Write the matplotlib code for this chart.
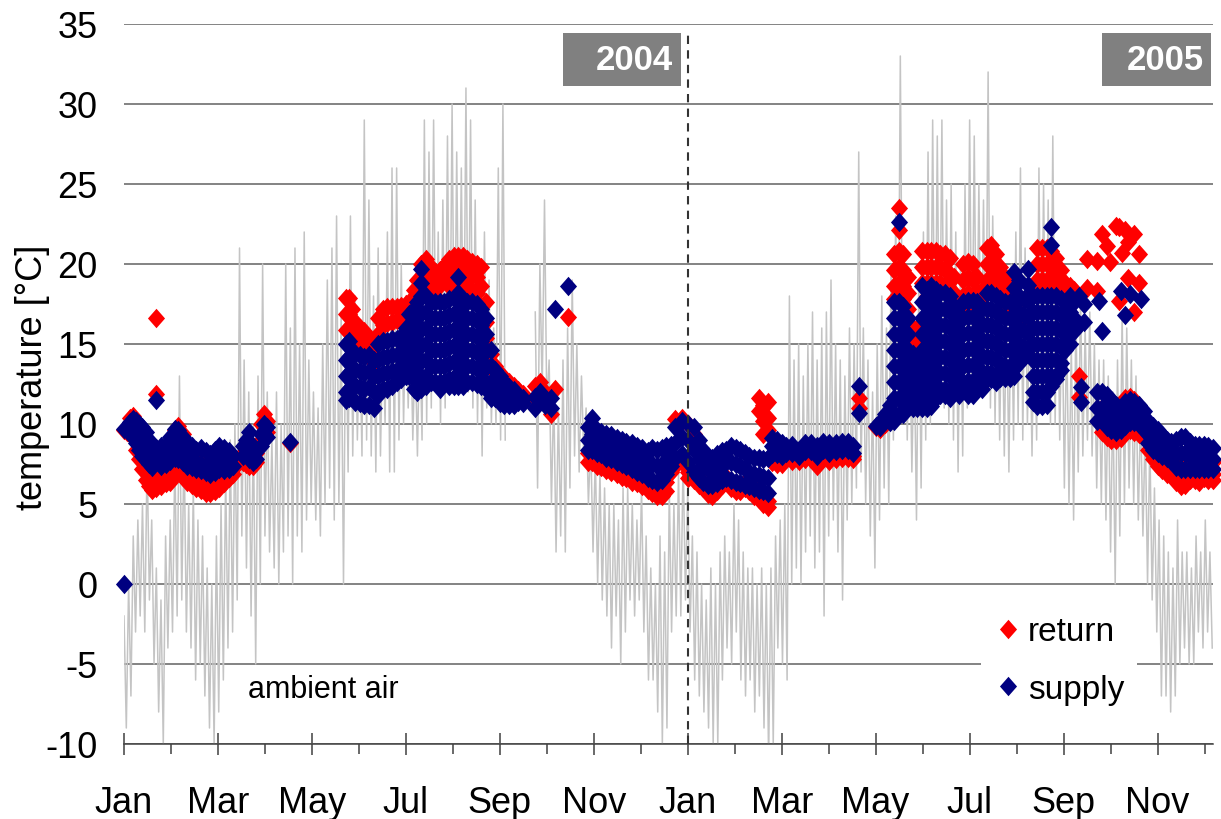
import numpy as np
import matplotlib
matplotlib.use("Agg")
import matplotlib.pyplot as plt
from matplotlib.path import Path
from matplotlib.patches import Rectangle

plt.rcParams['font.family'] = ['Liberation Sans', 'DejaVu Sans']
plt.rcParams['axes.unicode_minus'] = False

# ---------------------------------------------------------------------------
# Ambient air temperature: daily high / low, one pair every 3 days from 1 Jan 2004
# (None = logger gap)
# ---------------------------------------------------------------------------
amb_step = 3
amb_hi = [-2, 0, 3, 4, 5, 8, 4, 1, -1, 3,
          4, 8, 13, 9, 5, 6, 4, 3, 1, 0,
          3, 5, 7, 9, 10, 21, 14, 12, 10, 13,
          20, 12, 9, 12, 10, 20, 16, 21, 15, 22,
          14, 12, 11, 15, 19, 21, 23, 17, 18, 23,
          18, 16, 29, 24, 18, 21, 16, 22, 26, 26,
          20, 18, 17, 15, 16, 29, 27, 29, 22, 24,
          28, 30, 27, 26, 31, 29, 24, 20, 22, 19,
          16, 26, 30, None, None, None, None, None, None, 17,
          20, 24, 14, 12, 11, 14, 16, 19, 15, 13,
          11, 9, 8, 7, 6, 5, 5, 4, 6, 6,
          5, 4, 6, 3, 1, 0, 3, 2, 6, 5,
          7, 8, 6, 3, 2, 0, -1, 1, 0, 2,
          3, 2, 5, 4, 2, 1, 1, 0, 1, 0,
          1, 3, 4, 5, 18, 14, 15, 13, 15, 17,
          14, 16, 17, 19, 15, 14, 13, 16, 15, 27,
          16, 14, 12, 15, 18, 16, 20, 23, 33, 20,
          17, 15, 19, 22, 27, 29, 28, 29, 24, 25,
          22, 20, 25, 29, 28, 25, 24, 32, 23, 21,
          19, 18, 20, 22, 26, 21, 17, 18, 26, 25,
          24, 28, 20, 18, 16, 15, 17, 18, 16, 17,
          15, 14, 14, 13, 12, 14, 17, 16, 14, 13,
          11, 10, 9, 6, 4, 3, 2, 1, 4, 2,
          2, 1, 3, 2, 4, 2]
amb_lo = [-9, -7, -3, -2, -3, -1, -5, -8, -10, -4,
          -3, -2, -1, -3, -4, -6, -5, -7, -9, -10,
          -8, -6, -4, -3, -1, 3, 1, -2, -5, 0,
          3, 2, 1, 0, 2, 3, 0, 3, 2, 4,
          5, 4, 3, 5, 6, 4, 5, 0, 7, 8,
          9, 8, 9, 8, 7, 8, 10, 7, 7, 9,
          10, 11, 9, 8, 9, 10, 11, 12, 10, 11,
          12, 12, 13, 12, 12, 11, 10, 8, 11, 10,
          10, 9, 9, None, None, None, None, None, None, 6,
          12, 11, 5, 2, 3, 2, 6, 8, 7, 8,
          5, 2, 0, -1, -2, -4, -2, -5, -3, -1,
          -2, -1, -3, -6, -6, -8, -10, -9, -3, -2,
          -2, -1, -3, -6, -7, -8, -9, -10, -10, -6,
          -4, -5, -3, -6, -7, -6, -8, -7, -9, -11,
          -10, -4, -5, -6, 0, 1, 0, 2, 3, 1,
          2, -2, 3, 4, 2, -1, 4, 5, 6, 7,
          5, 3, 1, 4, 6, 5, 9, 10, 12, 9,
          7, 4, 6, 9, 10, 11, 12, 11, 10, 9,
          7, 8, 11, 12, 12, 12, 12, 11, 10, 9,
          8, 7, 9, 10, 9, 10, 8, 9, 11, 12,
          10, 10, 9, 6, 5, 4, 7, 8, 9, 8,
          6, 5, 4, 2, 0, 3, 5, 6, 5, 4,
          3, 0, -1, -3, -7, -7, -8, -7, -5, -4,
          -5, -5, -3, -4, -3, -4]

# ---------------------------------------------------------------------------
# Loop temperatures: day number (0 = 1 Jan 2004) and the readings of that day
# ---------------------------------------------------------------------------
supply_day = [
    0, 2, 4, 6, 8, 10, 12, 14, 16, 18, 21, 24, 27, 30, 33, 35, 38, 41, 44, 47,
    50, 53, 56, 59, 62, 65, 68, 71, 77, 79, 81, 84, 86, 89, 91, 93, 108,
    144, 146, 148, 150, 153, 156, 159, 162, 165, 168, 171, 174, 177, 180, 183,
    185, 188, 190, 193, 196, 199, 202, 205, 208, 211, 214, 217, 220, 223, 226,
    229, 232, 235, 238, 241, 244, 247, 250, 253, 256, 259,
    267, 270, 273, 277, 280, 288,
    301, 304, 307, 310, 313, 316, 320, 323, 326, 330, 333, 336, 340, 343, 346,
    349, 352, 355, 358, 362, 366, 370, 373, 376, 379, 382, 385, 388, 391, 394,
    397, 400, 403, 406, 409, 412, 415, 418, 421, 424, 427, 430, 434, 438, 442,
    446, 450, 454, 458, 462, 466, 470, 473, 477,
    488, 491, 494, 497, 500, 503, 506, 509, 512, 515, 518, 521, 524, 527, 530,
    533, 536, 539, 542, 545, 548, 551, 554, 557, 560, 563, 566, 569, 572, 575,
    578, 581, 584, 587, 590, 593, 596, 599, 602, 605, 608, 611, 614, 617, 620,
    621, 623, 633, 635, 647, 650, 653, 660,
    632, 635, 638, 641, 644, 647, 650, 653, 656, 659, 662, 665, 668, 671, 674,
    677, 680, 683, 686, 689, 692, 695, 698, 701, 704, 707]
supply_temp = [
    [0.0, 9.7], [9.8, 9.6], [10.1, 9.4], [10.3, 9.5], [10.2, 9.3, 8.8],
    [10.0, 9.0, 8.4], [9.8, 8.8, 8.0], [9.5, 8.6, 7.8], [9.0, 8.2, 7.5],
    [8.7, 8.0, 7.3], [11.5, 8.5, 7.6], [8.6, 7.8, 7.4], [8.7, 8.0, 7.5],
    [9.2, 8.4, 7.7], [9.7, 8.8, 7.9], [9.6, 8.6, 7.8], [9.2, 8.3, 7.6],
    [8.8, 8.0, 7.4], [8.6, 7.8, 7.3], [8.4, 7.6, 7.2], [8.5, 7.5, 7.1],
    [8.3, 7.4, 7.0], [8.1, 7.3, 6.9], [8.4, 7.5, 7.0], [8.6, 7.8, 7.2],
    [8.5, 7.6, 7.1], [8.3, 7.5, 7.2], [8.0, 7.4], [8.0, 8.6], [8.2, 9.0],
    [9.5, 8.4, 7.8], [8.6, 8.0, 7.6], [8.4, 7.8], [9.4, 8.6], [10.0, 9.4],
    [9.8, 9.2], [8.9],
    # summer 2004
    [15.0, 14.0, 13.0, 12.0, 11.5], [15.2, 14.2, 13.2, 12.2, 11.6],
    [14.6, 13.6, 12.6, 11.6], [14.4, 13.4, 12.4, 11.4], [14.3, 13.3, 12.3, 11.3],
    [14.2, 13.2, 12.2, 11.2], [14.3, 13.3, 12.3, 11.2], [14.0, 13.0, 12.0, 11.0],
    [15.0, 14.0, 13.0, 12.0, 11.8], [15.2, 14.2, 13.2, 12.2],
    [15.2, 14.2, 13.2, 12.2], [15.3, 14.3, 13.3, 12.4], [15.3, 14.3, 13.4, 12.6],
    [15.5, 14.5, 13.5, 12.8], [16.0, 15.0, 14.0, 13.0],
    [16.9, 15.9, 14.9, 13.9, 13.0], [17.2, 16.2, 15.2, 14.2, 13.2, 12.2],
    [17.6, 16.6, 15.6, 14.6, 13.6, 12.6, 12.0],
    [19.7, 18.8, 18.0, 17.0, 16.0, 15.0, 14.0, 13.0, 12.2],
    [18.0, 17.0, 16.0, 15.0, 14.0, 13.0, 12.4],
    [17.6, 16.6, 15.6, 14.6, 13.6, 12.6], [17.6, 16.6, 15.6, 14.6, 13.6, 12.6],
    [17.6, 16.6, 15.6, 14.6, 13.6, 12.6, 12.2],
    [17.6, 16.6, 15.6, 14.6, 13.6, 12.6],
    [17.8, 16.8, 15.8, 14.8, 13.8, 12.8, 12.4],
    [17.9, 16.9, 15.9, 14.9, 13.9, 12.9, 12.4],
    [19.2, 18.2, 17.2, 16.2, 15.2, 14.2, 13.2, 12.4],
    [17.8, 16.8, 15.8, 14.8, 13.8, 12.8, 12.4],
    [17.6, 16.6, 15.6, 14.6, 13.6, 12.6], [17.6, 16.6, 15.6, 14.6, 13.6, 12.6],
    [17.5, 16.5, 15.5, 14.5, 13.5, 12.5], [17.2, 16.2, 15.2, 14.2, 13.2, 12.4],
    [16.6, 15.6, 14.6, 13.6, 12.6, 12.2], [14.6, 13.6, 12.6, 11.6],
    [13.4, 12.5, 11.6], [13.0, 12.1, 11.3], [12.6, 11.8, 11.2],
    [12.3, 11.6, 11.2], [12.1, 11.5, 11.2], [11.8, 11.4], [11.6, 11.3],
    # autumn 2004
    [11.0, 11.7], [11.6, 12.0], [11.2], [11.6, 11.0], [17.2], [18.6],
    # winter 2004/05
    [9.8, 9.0, 8.4], [10.4, 9.4, 8.4], [9.6, 8.9, 8.2], [9.5, 8.8, 8.1],
    [9.4, 8.6, 7.9], [9.3, 8.5, 7.8], [9.1, 8.3, 7.6], [9.0, 8.2, 7.5],
    [8.9, 8.1, 7.4], [8.8, 8.0, 7.2], [8.6, 7.8, 7.0], [8.5, 7.7, 6.9],
    [8.3, 7.5, 6.6], [8.5, 7.5, 6.5], [8.4, 7.4, 6.4], [8.5, 7.5, 6.5],
    [8.6, 7.6, 6.9], [8.7, 8.0, 7.4], [9.8, 8.8, 7.9], [10.2, 9.2, 8.1],
    [10.0, 9.0, 7.6], [9.8, 8.4, 7.0], [9.0, 7.8, 6.6], [8.4, 7.4, 6.4],
    [8.0, 7.2, 6.2], [7.9, 7.0, 6.2], [8.1, 7.2, 6.3], [8.3, 7.4, 6.5],
    [8.4, 7.6, 6.6], [8.6, 7.6, 6.5], [8.5, 7.5, 6.4], [8.4, 7.4, 6.3],
    [8.2, 7.2, 6.2], [8.0, 7.0, 6.1], [7.9, 6.9, 6.0], [7.9, 6.8, 5.9],
    [7.8, 6.7, 5.8], [7.9, 6.6, 5.7], [9.1, 8.6, 8.1], [9.0, 8.5, 8.1],
    [8.8, 8.3, 8.0], [8.6, 8.2], [8.7, 8.2], [8.4, 8.0], [8.8, 8.3],
    [8.8, 8.3], [8.6, 8.0], [8.9, 8.4], [8.8, 8.2], [8.8, 8.3], [8.9, 8.4],
    [8.9, 8.4], [8.6, 8.2], [12.4, 10.7],
    # summer 2005
    [9.9], [9.8, 10.1], [10.2, 10.6], [10.1, 10.5, 11.2],
    [17.6, 16.6, 15.6, 14.6, 13.6, 12.6, 11.6, 10.6, 10.2],
    [22.6, 17.6, 16.6, 15.6, 14.6, 13.6, 12.6, 11.6, 10.6],
    [17.4, 16.4, 15.4, 14.4, 13.4, 12.4, 11.4, 10.6],
    [16.6, 15.6, 14.6, 13.6, 12.6, 11.6, 11.2],
    [14.4, 13.4, 12.4, 11.4, 11.0], [14.0, 13.0, 12.0, 11.0],
    [18.6, 17.6, 16.6, 15.6, 14.6, 13.6, 12.6, 11.6, 11.0],
    [18.4, 17.4, 16.4, 15.4, 14.4, 13.4, 12.4, 11.4, 11.0],
    [18.6, 17.6, 16.6, 15.6, 14.6, 13.6, 12.6, 11.6, 11.1],
    [18.4, 17.4, 16.4, 15.4, 14.4, 13.4, 12.4, 11.6],
    [18.2, 17.2, 16.2, 15.2, 14.2, 13.2, 12.2, 11.8],
    [18.2, 17.2, 16.2, 15.2, 14.2, 13.2, 12.2, 11.8],
    [18.0, 17.0, 16.0, 15.0, 14.0, 13.0, 12.0, 11.6],
    [17.4, 16.4, 15.4, 14.4, 13.4, 12.4, 12.0],
    [16.8, 15.8, 14.8, 13.8, 12.8, 11.8],
    [17.6, 16.6, 15.6, 14.6, 13.6, 12.6, 12.2],
    [17.7, 16.7, 15.7, 14.7, 13.7, 12.7, 11.8],
    [17.7, 16.7, 15.7, 14.7, 13.7, 12.7, 11.8],
    [17.6, 16.6, 15.6, 14.6, 13.6, 12.6, 12.2],
    [17.2, 16.2, 15.2, 14.2, 13.2, 12.2],
    [18.2, 17.2, 16.2, 15.2, 14.2, 13.2, 12.8],
    [18.2, 17.2, 16.2, 15.2, 14.2, 13.2, 12.8],
    [18.0, 17.0, 16.0, 15.0, 14.0, 13.0, 12.6],
    [17.8, 16.8, 15.8, 14.8, 13.8, 12.9],
    [17.6, 16.6, 15.6, 14.6, 13.6, 12.9],
    [17.6, 16.6, 15.6, 14.6, 13.6, 12.9],
    [19.5, 18.5, 17.5, 16.5, 15.5, 14.5, 13.5, 13.0],
    [19.0, 18.0, 17.0, 16.0, 15.0, 14.0, 13.8],
    [17.8, 16.8, 15.8, 14.8, 14.2],
    [19.7, 18.7, 17.7, 16.7, 15.7, 14.7],
    [18.0, 17.0, 16.0, 15.0, 14.0, 13.0, 12.0, 11.4],
    [18.0, 17.0, 16.0, 15.0, 14.0, 13.0, 12.0, 11.1],
    [18.0, 17.0, 16.0, 15.0, 14.0, 13.0, 12.0, 11.1],
    [18.0, 17.0, 16.0, 15.0, 14.0, 13.0, 12.0, 11.2],
    [22.3, 21.2, 18.0, 17.0, 16.0, 15.0, 14.0, 13.0, 12.4],
    [18.0, 17.0, 16.0, 15.0, 14.0, 13.0, 12.8],
    [17.8, 16.8, 15.8, 14.8, 13.8, 13.4],
    [17.6, 16.6, 15.6, 14.6], [18.0, 17.0, 16.0, 15.0], [17.6, 16.6, 15.8],
    [18.0, 16.2], [12.3, 11.4], [17.5, 16.4], [17.7], [15.8], [18.3],
    [16.8], [18.1], [17.8],
    # autumn 2005
    [12.0, 11.0, 10.2], [12.0, 11.0, 10.2], [11.8, 10.8, 9.8], [11.5, 10.5, 9.6],
    [11.2, 10.3, 9.5], [11.0, 10.2, 9.6], [11.4, 10.6, 9.9], [11.5, 10.8, 10.1],
    [11.4, 10.7, 10.1], [11.2, 10.5, 10.0], [10.8, 10.1, 9.6], [10.2, 9.4, 8.8],
    [9.9, 9.0, 8.4], [9.6, 8.8, 8.2], [9.3, 8.5, 8.0], [9.0, 8.3, 7.9],
    [8.9, 8.1, 7.7], [9.0, 8.1, 7.3], [9.2, 8.2, 7.2], [9.2, 8.2, 7.2],
    [8.9, 8.0, 7.2], [8.7, 7.9, 7.2], [8.7, 7.9, 7.2], [8.7, 7.9, 7.2],
    [8.6, 7.9, 7.2], [8.5, 7.8, 7.2]]

return_day = [
    0, 2, 4, 6, 8, 10, 12, 14, 16, 18, 21, 24, 27, 30, 33, 35, 38, 41, 44, 47,
    50, 53, 56, 59, 62, 65, 68, 71, 77, 79, 81, 84, 86, 89, 91, 93, 107.5,
    144, 146, 148, 150, 153, 156, 159, 162, 165, 168, 171, 174, 177, 180, 183,
    185, 188, 190, 193, 196, 199, 202, 205, 208, 211, 214, 217, 220, 223, 226,
    229, 232, 235, 238, 241, 244, 247, 250, 253, 256, 259,
    267, 270, 273, 277, 280, 288,
    301, 304, 307, 310, 313, 316, 320, 323, 326, 330, 333, 336, 340, 343, 346,
    349, 352, 355, 358, 362, 366, 370, 373, 376, 379, 382, 385, 388, 391, 394,
    397, 400, 403, 406, 409, 412, 415, 418, 421, 424, 427, 430, 434, 438, 442,
    446, 450, 454, 458, 462, 466, 470, 473, 477,
    488, 491, 494, 497, 500, 503, 506, 509, 512, 515, 518, 521, 524, 527, 530,
    533, 536, 539, 542, 545, 548, 551, 554, 557, 560, 563, 566, 569, 572, 575,
    578, 581, 584, 590, 593, 596, 599, 602, 605, 608, 611, 614, 617, 620,
    625, 632, 635, 638, 640, 644, 646, 648, 650, 652, 656, 659,
    635, 638, 641, 644, 647, 650, 653, 656, 659, 662, 665, 668, 671, 674, 677,
    680, 683, 686, 689, 692, 695, 698, 701, 704, 707]
return_temp = [
    [9.6], [9.8, 9.5], [10.4, 9.4], [10.5, 9.3], [10.2, 9.0, 8.4],
    [9.8, 8.6, 7.8], [9.5, 8.0, 7.2], [9.0, 7.4, 6.5], [8.5, 7.0, 6.1],
    [8.2, 6.6, 5.9], [16.6, 11.9, 8.0, 6.5, 6.0], [8.0, 6.8, 6.1],
    [8.3, 7.0, 6.3], [8.8, 7.2, 6.4], [9.6, 8.0, 6.9], [9.9, 8.3, 7.0],
    [9.4, 7.8, 6.7], [8.6, 7.0, 6.4], [8.2, 6.6, 6.2], [8.0, 6.5, 6.0],
    [8.2, 6.6, 5.9], [7.9, 6.4, 5.7], [7.8, 6.2, 5.7], [8.0, 6.4, 5.8],
    [8.2, 6.8, 6.0], [8.0, 6.9, 6.3], [8.0, 7.1, 6.6], [7.9, 7.2, 6.9],
    [7.6, 8.2], [7.5, 8.0], [7.4, 8.3], [7.4, 7.8], [7.6, 8.2], [9.0, 10.0],
    [10.6, 9.8], [10.2, 9.5], [8.8],
    # summer 2004
    [17.9, 16.9, 15.9], [17.9, 16.9, 15.9], [17.2, 16.2], [16.4, 15.4],
    [16.0, 15.0], [15.8, 14.8], [15.4, 14.4], [14.4, 13.8], [16.6, 15.6],
    [17.2, 16.2], [17.3, 16.3], [17.3, 16.4], [17.3, 16.5], [17.4, 16.5],
    [17.5, 16.8], [17.6, 17.0], [18.4, 17.4], [19.0, 18.0],
    [20.0, 19.2, 18.2], [20.3, 19.3, 18.3], [19.8, 18.9, 18.2],
    [19.5, 18.8, 18.0], [19.6, 18.7], [19.9, 19.0], [20.3, 19.4, 18.6],
    [20.5, 19.7, 18.8], [20.5, 19.8, 19.0], [20.5, 19.7, 18.8],
    [20.3, 19.5, 18.6], [20.1, 19.3, 18.4], [20.0, 19.2, 18.2],
    [19.8, 18.6, 17.4], [17.6, 16.4, 15.4], [14.4, 13.5], [13.6, 12.8],
    [13.2, 12.6], [12.9, 12.4], [12.6, 12.1], [12.4, 11.9], [12.1, 11.7],
    [11.9, 11.6],
    # autumn 2004
    [11.6, 12.4], [12.6, 11.8], [12.0], [10.6], [12.2], [16.7],
    # winter 2004/05
    [8.2, 7.6], [8.2, 7.6], [7.9, 7.4], [7.8, 7.3], [7.6, 7.1], [7.5, 7.0],
    [7.4, 6.9], [7.2, 6.7], [7.1, 6.6], [6.9, 6.4], [6.8, 6.3], [6.6, 6.1],
    [6.4, 5.9], [6.2, 5.7], [6.0, 5.5], [6.0, 5.5], [6.4, 5.8], [7.4, 7.0],
    [10.3, 7.8, 7.4], [10.4, 7.9, 7.6], [10.0, 7.0, 6.6], [9.4, 6.8, 6.5],
    [6.6, 6.2], [6.4, 6.0], [6.0, 5.6], [5.9, 5.5], [6.2, 5.8], [6.6, 6.2],
    [6.7, 6.4], [6.4, 6.0], [6.2, 5.8], [6.2, 5.8], [6.4, 6.0], [6.3, 5.8],
    [6.0, 5.5], [11.6, 10.8, 5.8, 5.3], [11.2, 10.2, 9.4, 5.5, 5.0],
    [11.4, 10.4, 9.6, 5.2, 4.8], [8.0, 7.6], [7.9, 7.5], [7.8, 7.5],
    [8.0, 7.8], [8.0, 7.7], [7.9, 7.7], [8.1, 7.8], [8.0, 7.8], [7.8, 7.4],
    [8.1, 7.9], [8.0, 7.7], [8.1, 7.8], [8.2, 7.9], [8.2, 7.9], [8.0, 7.8],
    [11.6, 11.0],
    # summer 2005
    [9.8], [9.7], [10.0], [10.2],
    [20.6, 19.6, 18.6, 17.8], [23.5, 22.1, 20.8, 19.8, 18.8, 18.0],
    [20.6, 19.6, 18.6, 17.8], [19.2, 18.2, 17.2], [16.0, 15.2], [16.0, 15.1],
    [20.8, 19.8, 18.8], [20.8, 19.8, 18.8, 18.0], [20.8, 19.8, 18.8, 18.0],
    [20.8, 19.8, 18.8], [20.6, 19.8, 18.8], [20.6, 19.6, 18.6],
    [20.4, 19.4, 18.4, 17.4], [19.2, 18.2, 17.2], [17.8, 17.0],
    [20.0, 19.0, 18.0, 17.2], [20.1, 19.2, 18.2, 17.2], [20.0, 19.0, 18.0, 17.1],
    [19.2, 18.2, 17.2], [18.4, 17.4], [21.0, 20.0, 19.0, 18.2],
    [21.2, 20.2, 19.2, 18.4], [20.6, 19.6, 18.6], [19.8, 18.8, 17.8],
    [19.2, 18.2, 17.4], [18.6, 17.6], [17.8, 16.8], [17.0, 16.4], [16.5],
    [18.2], [21.0, 20.0, 19.0, 18.2], [21.0, 20.0, 19.0, 18.2],
    [21.0, 20.0, 19.0, 18.2], [20.8, 19.8, 18.8], [20.4, 19.4, 18.6],
    [19.6, 18.8, 18.2], [18.8, 18.2], [18.6, 18.0], [18.4], [13.0, 11.7],
    [20.3, 18.5], [20.2, 18.3], [21.9], [21.1], [20.1], [22.4],
    [22.3, 17.7], [20.7], [22.1], [21.4, 19.1], [21.9, 17.0], [20.6, 18.8],
    # autumn 2005
    [11.0, 10.0, 9.5], [10.6, 9.6, 9.2], [10.4, 9.4, 9.0], [10.2, 9.4, 9.0],
    [10.4, 9.6, 9.1], [11.6, 10.6, 9.6], [11.7, 10.6, 9.6], [11.5, 10.4, 9.5],
    [11.0, 10.0, 9.4], [10.4, 9.6, 9.3], [9.8, 8.9, 8.4], [9.3, 8.4, 7.8],
    [8.8, 7.9, 7.4], [8.4, 7.6, 7.1], [8.2, 7.3, 6.9], [8.0, 7.1, 6.8],
    [7.8, 6.8, 6.4], [7.8, 6.7, 6.1], [7.8, 6.8, 6.2], [7.8, 7.0, 6.5],
    [7.8, 7.0, 6.5], [7.6, 6.9, 6.4], [7.8, 7.0, 6.6], [7.8, 7.0, 6.5],
    [7.6, 6.9, 6.5]]

# axis labelling: ticks every 61 days starting 1 Jan 2004
tick_labels = ["Jan", "Mar", "May", "Jul", "Sep", "Nov",
               "Jan", "Mar", "May", "Jul", "Sep", "Nov"]
year_labels = ["2004", "2005"]
series_names = ["return", "supply"]

RED = "#ff0000"
NAVY = "#000080"
GRAY = "#c4c4c4"

# ---------------------------------------------------------------------------
fig = plt.figure(figsize=(12.21, 8.20), dpi=100)
ax = fig.add_axes([124 / 1221, 75 / 820, 1089 / 1221, 720 / 820])

# ambient air as a high/low zigzag
hi = np.array([np.nan if v is None else v for v in amb_hi], dtype=float)
lo = np.array([np.nan if v is None else v for v in amb_lo], dtype=float)
k = np.arange(len(hi)) * amb_step
amb_x = np.column_stack([k, k + amb_step / 2]).ravel()
amb_y = np.column_stack([hi, lo]).ravel()
ax.plot(amb_x, amb_y, color=GRAY, lw=1.1, zorder=1)


def flatten(days, temps):
    xs, ys = [], []
    for d, vals in zip(days, temps):
        for v in vals:
            xs.append(d)
            ys.append(v)
    return np.array(xs), np.array(ys)


diamond = Path([(0, 1), (0.88, 0), (0, -1), (-0.88, 0), (0, 1)],
               [Path.MOVETO, Path.LINETO, Path.LINETO, Path.LINETO, Path.CLOSEPOLY])

rx, ry = flatten(return_day, return_temp)
sx, sy = flatten(supply_day, supply_temp)
ax.plot(rx, ry, ls="none", marker=diamond, ms=14, mfc=RED, mec="none",
        mew=0, zorder=2, label=series_names[0], clip_on=False)
ax.plot(sx, sy, ls="none", marker=diamond, ms=14, mfc=NAVY, mec="none",
        mew=0, zorder=3, label=series_names[1], clip_on=False)

# axes
ax.set_xlim(0, 707)
ax.set_ylim(-10, 35)
ax.set_yticks(np.arange(-10, 36, 5))
ax.set_xticks(np.arange(0, 672, 61))
ax.set_xticklabels(tick_labels)
ax.set_xticks(np.arange(30.5, 707, 61), minor=True)

for s in ("left", "right", "top"):
    ax.spines[s].set_visible(False)
ax.spines["bottom"].set_color("#404040")
ax.spines["bottom"].set_linewidth(1.1)

ax.yaxis.grid(True, color="#7a7a7a", lw=1.3)
ax.set_axisbelow(True)
ax.tick_params(axis="y", length=0, pad=19, labelsize=26)
ax.tick_params(axis="x", which="major", direction="inout", length=16.5,
               width=1.1, color="#404040", pad=21, labelsize=26)
ax.tick_params(axis="x", which="minor", direction="out", length=7.2,
               width=1.1, color="#404040")

ax.set_ylabel("temperature [°C]", fontsize=26)
ax.yaxis.set_label_coords(-0.068, 0.51)

ax.text(80.5, -7.06, "ambient air", fontsize=22, ha="left", va="baseline",
        zorder=4)

# year change marker
ax.plot([366, 366], [-10, 34.44], ls=(0, (4, 3)), lw=1.5, color="#333333",
        zorder=6, clip_on=False)

# year boxes (axes-fraction coordinates)
box_y0, box_h = 0.9139, 0.0736
for (x0, w, xr), txt in zip([(0.4031, 0.1084, 0.5043), (0.8981, 0.1000, 0.9917)],
                            year_labels):
    ax.add_patch(Rectangle((x0, box_y0), w, box_h, transform=ax.transAxes,
                           fc="#808080", ec="none", zorder=7, clip_on=False))
    ax.text(xr, box_y0 + box_h / 2, txt, transform=ax.transAxes, ha="right",
            va="center", fontsize=25, fontweight="bold", color="white", zorder=8)

leg = ax.legend(loc="upper left", bbox_to_anchor=(0.787, 0.196), fontsize=24,
                frameon=True, facecolor="white", edgecolor="none", framealpha=1,
                fancybox=False, borderpad=0.4, handlelength=0.8,
                handletextpad=0.2, labelspacing=0.8, numpoints=1,
                borderaxespad=0)
leg.set_zorder(9)

fig.savefig("out.png", dpi=100)
